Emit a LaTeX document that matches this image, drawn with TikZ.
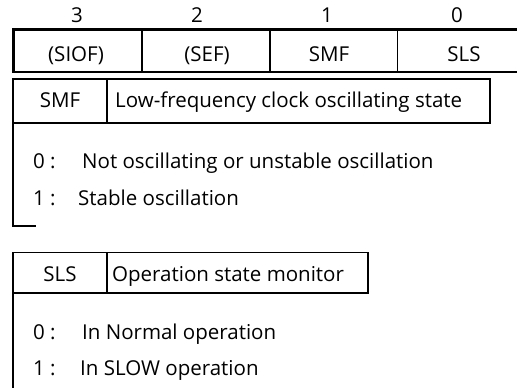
\documentclass[tikz,border=0pt]{standalone}
\usepackage{fontspec}
\setmainfont{Open Sans}
\begin{document}
\begin{tikzpicture}[x=1pt,y=-1pt,
  txt/.style={inner sep=0pt, font=\fontsize{20.5}{24}\selectfont, anchor=base},
  ltxt/.style={txt, anchor=base west},
  thin/.style={line width=1.2pt},
  thick/.style={line width=2.8pt}]
\useasboundingbox (0,0) rectangle (517,388);

% bit numbers
\node[txt] (n3) at (77,22) {3};
\node[txt] (n2) at (197,22) {2};
\node[txt] (n1) at (327,22) {1};
\node[txt] (n0) at (457,22) {0};

% register cells
\node[txt] (c3) at (76,61.5) {(SIOF)};
\node[txt] (c2) at (207,61.5) {(SEF)};
\node[txt] (c1) at (329,61.5) {SMF};
\node[txt] (c0) at (464,61.5) {SLS};
\draw[thick] (525,29.5) -- (13.4,29.5) -- (13.4,72) -- (525,72);
\draw[thin] (142,29.5) -- (142,72) (270,29.5) -- (270,72) (397.5,29.5) -- (397.5,72);

% SMF description
\coordinate (smfA) at (13,79);
\coordinate (smfB) at (490,123);
\draw[thin] (smfA) rectangle (smfB);
\draw[thin] (107,79) -- (107,123);
\draw[thin] (13,123) -- (13,226) -- (36,226);
\node[txt] (smfh) at (60,107.5) {SMF};
\node[ltxt] (smfd) at (115,107.5) {Low-frequency clock oscillating state};
\node[ltxt] (smf0k) at (33,168) {0 :};
\node[ltxt] (smf0) at (82,168) {Not oscillating or unstable oscillation};
\node[ltxt] (smf1k) at (33,205) {1 :};
\node[ltxt] (smf1) at (78,205) {Stable oscillation};

% SLS description
\coordinate (slsA) at (13,252.5);
\coordinate (slsB) at (368,293);
\draw[thin] (slsA) rectangle (slsB);
\draw[thin] (107,252.5) -- (107,293);
\draw[thin] (13,293) -- (13,392);
\node[txt] (slsh) at (60,281) {SLS};
\node[ltxt] (slsd) at (112,281) {Operation state monitor};
\node[ltxt] (sls0k) at (33,339) {0 :};
\node[ltxt] (sls0) at (82,339) {In Normal operation};
\node[ltxt] (sls1k) at (33,375) {1 :};
\node[ltxt] (sls1) at (80,375) {In SLOW operation};
\end{tikzpicture}
\end{document}
